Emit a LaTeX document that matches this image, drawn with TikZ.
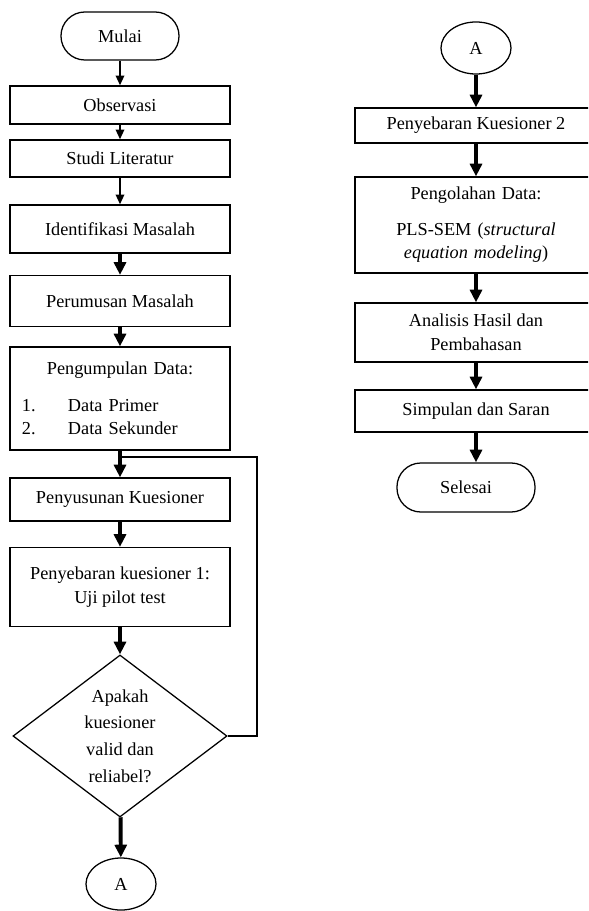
\documentclass[tikz,border=0pt]{standalone}
\usepackage{fontspec}
\setmainfont{Liberation Serif}
\usetikzlibrary{arrows.meta, shapes.geometric}

\begin{document}
\begin{tikzpicture}[x=0.025cm, y=-0.025cm, font=\fontsize{13}{17}\selectfont,
    box/.style={rectangle, draw, line width=0.9pt, minimum width=5.5cm,
                minimum height=#1, align=center, inner sep=2pt},
    term/.style={rectangle, draw, line width=0.9pt, rounded corners=17pt,
                 minimum height=1.2cm, inner sep=2pt},
    conn/.style={ellipse, draw, line width=0.9pt, minimum width=1.75cm,
                 minimum height=1.3cm, inner sep=0pt},
    decision/.style={diamond, draw, line width=0.9pt, aspect=1.32,
                     minimum width=5.35cm, minimum height=4.05cm,
                     inner sep=0pt, align=center},
    arr/.style={line width=1.4pt, -{Triangle[width=6pt, length=7pt]}},
    arrthick/.style={line width=2.8pt, -{Triangle[width=8.5pt, length=9pt]}},
    back/.style={line width=1.4pt}]

% frame of the page
\clip (0,0) rectangle (588,911);

% ========================================
%  LEFT column
% ========================================

\node[term, minimum width=2.95cm] (mulai) at (120, 36) {Mulai};
\node[box=0.95cm] (obs) at (120, 105) {Observasi};
\node[box=0.925cm] (studi) at (120, 158.5) {Studi Literatur};
\node[box=1.2cm] (ident) at (120, 229) {Identifikasi Masalah};
\node[box=1.275cm] (perum) at (120, 301) {Perumusan Masalah};

% data collection, with its list
\node[box=2.575cm, text width=4.9cm, inner xsep=0.3cm] (kumpul) at (120, 398.5)
    {Pengumpulan Data:\\[9pt]
     \makebox[4.9cm][l]{\makebox[1.15cm][l]{1.}Data Primer}\\
     \makebox[4.9cm][l]{\makebox[1.15cm][l]{2.}Data Sekunder}};

\node[box=1.075cm] (susun) at (120, 499.5) {Penyusunan Kuesioner};
\node[box=1.975cm] (sebar1) at (120, 587) {Penyebaran kuesioner 1:\\Uji pilot test};

% validity check
\node[decision, font=\fontsize{13}{19}\selectfont] (cek) at (120, 736)
    {Apakah\\kuesioner\\valid dan\\reliabel?};

% off-page connector
\node[conn] (akiri) at (121, 884) {A};

% ========================================
%  RIGHT column
% ========================================

\node[conn] (akanan) at (476, 48) {A};
\node[box=0.875cm, minimum width=6.05cm] (sebar2) at (476, 125.5) {Penyebaran Kuesioner 2};
\node[box=2.4cm, minimum width=6.05cm, text width=5.6cm] (olah) at (476, 225)
    {Pengolahan Data:\\[8pt]
     PLS-SEM (\textit{structural}\\\textit{equation modeling})};
\node[box=1.475cm, minimum width=6.05cm] (anal) at (476, 332.5) {Analisis Hasil dan\\Pembahasan};
\node[box=1.05cm, minimum width=6.05cm] (simp) at (476, 411) {Simpulan dan Saran};
\node[term, minimum width=3.45cm, minimum height=1.225cm] (selesai) at (466, 487.5) {Selesai};

% ========================================
%  Arrows
% ========================================

\coordinate (join) at (120, 457);
\coordinate (loopup) at (257, 457);

\draw[arr] (mulai) -- (obs);
\draw[arr] (obs) -- (studi);
\draw[arr] (studi) -- (ident);
\draw[arrthick] (ident) -- (perum);
\draw[arrthick] (perum) -- (kumpul);
\draw[arrthick] (kumpul) -- (susun);
\draw[arrthick] (susun) -- (sebar1);
\draw[arrthick] (sebar1) -- (cek);
\draw[arrthick] (cek) -- (akiri);

% back to questionnaire design when not valid
\draw[back] (cek.east) -| (loopup) -- (join);

\draw[arrthick] (akanan) -- (sebar2);
\draw[arrthick] (sebar2) -- (olah);
\draw[arrthick] (olah) -- (anal);
\draw[arrthick] (anal) -- (simp);
\draw[arrthick] (simp) -- (simp |- selesai.north);

\end{tikzpicture}
\end{document}
